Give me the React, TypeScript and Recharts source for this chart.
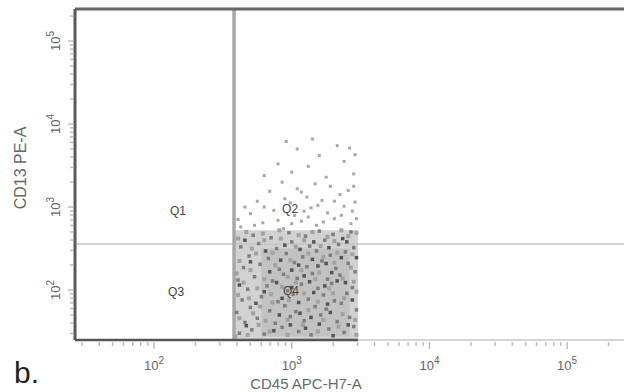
import {
  ReferenceArea,
  ReferenceDot,
  ReferenceLine,
  Scatter,
  ScatterChart,
  XAxis,
  YAxis,
} from "recharts";

// axis values are log10 of the channel intensity
const X_MIN = 1.426;
const X_MAX = 5.413;
const Y_MIN = 1.398;
const Y_MAX = 5.386;

const majorDecades = [1, 2, 3, 4, 5];
const minorSteps = [1, 2, 3, 4, 5, 6, 7, 8, 9];

// quadrant gate
const GATE_X = 2.581;
const GATE_Y = 2.555;
const CLOUD_RIGHT = 3.481;

const quadrantLabels: [string, number, number][] = [
  ["Q1", 2.174, 2.952],
  ["Q2", 2.988, 2.976],
  ["Q3", 2.16, 1.976],
  ["Q4", 2.995, 1.988],
];

// density shading of the packed region (CD13 low / mid)
const denseBand = { x1: GATE_X, x2: CLOUD_RIGHT, y1: Y_MIN, y2: 2.72 };
const coreBand = { x1: 2.78, x2: 3.42, y1: 1.44, y2: 2.5 };

// events: [CD45, CD13]
const coreEvents: [number, number][] = [
  [2.62, 1.48], [2.71, 1.52], [2.8, 1.47], [2.93, 1.55], [3.05, 1.5], [3.14, 1.46], [3.27, 1.53], [3.38, 1.49],
  [3.45, 1.56], [2.66, 1.61], [2.75, 1.66], [2.88, 1.6], [2.99, 1.68], [3.09, 1.63], [3.21, 1.7], [3.33, 1.62],
  [3.42, 1.67], [2.6, 1.73], [2.7, 1.79], [2.84, 1.75], [2.95, 1.81], [3.03, 1.74], [3.17, 1.8], [3.25, 1.77],
  [3.36, 1.84], [3.47, 1.76], [2.64, 1.88], [2.78, 1.92], [2.9, 1.86], [3.01, 1.95], [3.12, 1.89], [3.23, 1.94],
  [3.31, 1.87], [3.4, 1.96], [2.68, 2.01], [2.82, 2.05], [2.97, 1.99], [3.07, 2.07], [3.19, 2.02], [3.29, 2.08],
  [3.44, 2.03], [2.61, 2.12], [2.73, 2.16], [2.86, 2.11], [2.94, 2.19], [3.04, 2.14], [3.15, 2.2], [3.26, 2.13],
  [3.35, 2.18], [3.46, 2.22], [2.65, 2.27], [2.77, 2.31], [2.91, 2.25], [3.02, 2.33], [3.11, 2.28], [3.22, 2.35],
  [3.32, 2.26], [3.41, 2.32], [2.69, 2.41], [2.83, 2.38], [2.96, 2.44], [3.08, 2.4], [3.18, 2.47], [3.28, 2.42],
  [3.39, 2.46], [2.63, 2.52], [2.76, 2.56], [2.89, 2.5], [3.0, 2.58], [3.13, 2.53], [3.24, 2.6], [3.34, 2.55],
  [3.45, 2.51], [2.72, 2.66], [2.85, 2.63], [2.98, 2.69], [3.1, 2.65], [3.2, 2.71], [3.3, 2.67], [3.43, 2.7],
];

const coreEventsDark: [number, number][] = [
  [2.87, 1.51], [2.99, 1.58], [3.1, 1.54], [3.2, 1.59], [3.3, 1.45], [2.91, 1.7], [3.06, 1.72], [3.14, 1.67],
  [3.28, 1.73], [2.93, 1.9], [3.05, 1.85], [3.16, 1.97], [3.26, 1.83], [2.8, 1.98], [2.89, 2.09], [3.0, 2.03],
  [3.13, 2.1], [3.24, 2.05], [3.33, 2.11], [2.84, 2.22], [3.0, 2.24], [3.09, 2.17], [3.19, 2.29], [3.29, 2.21],
  [2.92, 2.36], [3.05, 2.3], [3.15, 2.37], [3.25, 2.32], [3.36, 2.39], [2.81, 2.47], [2.95, 2.54], [3.06, 2.49],
  [3.16, 2.58], [3.27, 2.51], [3.37, 2.62], [2.67, 1.57], [2.74, 1.84], [2.62, 2.06], [2.7, 2.34], [2.66, 2.6],
  [3.41, 1.58], [3.44, 1.88], [3.39, 2.09], [3.47, 2.39], [3.4, 2.58],
];

const coreEventsLight: [number, number][] = [
  [2.59, 1.44], [2.68, 1.46], [2.76, 1.58], [2.84, 1.5], [2.97, 1.46], [3.08, 1.58], [3.19, 1.5], [3.34, 1.56],
  [3.47, 1.46], [2.62, 1.66], [2.72, 1.72], [2.81, 1.63], [2.86, 1.85], [2.97, 1.64], [3.12, 1.76], [3.23, 1.64],
  [3.37, 1.71], [3.46, 1.64], [2.61, 1.94], [2.69, 1.9], [2.77, 1.8], [2.98, 1.88], [3.09, 1.96], [3.19, 1.86],
  [3.3, 1.96], [3.38, 1.9], [3.47, 1.98], [2.65, 2.09], [2.75, 2.02], [2.85, 1.95], [2.93, 2.04], [3.03, 2.09],
  [3.17, 2.13], [3.27, 2.02], [3.37, 2.14], [3.45, 2.1], [2.6, 2.2], [2.7, 2.24], [2.8, 2.13], [2.88, 2.3],
  [2.97, 2.16], [3.07, 2.24], [3.2, 2.21], [3.31, 2.33], [3.43, 2.27], [2.62, 2.35], [2.74, 2.44], [2.86, 2.45],
  [2.99, 2.36], [3.12, 2.44], [3.23, 2.4], [3.33, 2.45], [3.44, 2.43], [2.61, 2.62], [2.71, 2.5], [2.8, 2.6],
  [2.92, 2.62], [3.03, 2.52], [3.09, 2.6], [3.21, 2.53], [3.31, 2.59], [3.41, 2.65], [2.67, 2.7], [2.79, 2.68],
  [2.91, 2.72], [3.05, 2.66], [3.15, 2.7], [3.26, 2.64], [3.36, 2.72], [3.47, 2.69],
];

const upperEvents: [number, number][] = [
  [2.63, 2.76], [2.79, 2.81], [2.94, 2.74], [3.07, 2.83], [3.18, 2.78], [3.31, 2.86], [3.43, 2.8], [2.7, 2.92],
  [2.87, 2.96], [3.02, 2.9], [3.14, 2.99], [3.26, 2.93], [3.38, 3.01], [2.75, 3.07], [2.99, 3.05], [3.11, 3.12],
  [3.22, 3.08], [3.35, 3.15], [3.46, 3.06], [2.84, 3.19], [3.04, 3.22], [3.28, 3.25], [3.41, 3.2], [2.93, 3.3],
  [3.17, 3.28], [3.44, 2.95], [2.66, 3.0], [3.09, 2.95], [2.61, 2.85], [2.73, 2.78], [2.9, 2.84], [3.0, 2.8],
  [3.12, 2.88], [3.23, 2.82], [3.36, 2.9], [3.47, 2.86], [2.8, 3.0], [2.95, 3.1], [3.19, 3.02], [3.31, 3.07],
  [3.07, 3.18], [3.45, 3.25],
  [2.8, 3.38], [3.0, 3.42], [3.25, 3.36], [3.45, 3.4], [2.9, 3.52], [3.12, 3.49], [3.38, 3.55], [3.2, 3.62],
  [3.46, 3.63], [3.04, 3.7], [3.33, 3.74], [2.96, 3.79], [3.15, 3.82], [3.42, 3.71],
];

const toPoints = (rows: [number, number][]) => rows.map(([x, y]) => ({ x, y }));

const axisTicks = (lo: number, hi: number) =>
  majorDecades
    .flatMap((d) => minorSteps.map((m) => d + Math.log10(m)))
    .filter((v) => v >= lo && v <= hi);

const isMajor = (v: number) => Math.abs(v - Math.round(v)) < 1e-6;

const FONT = "'Liberation Sans', Arial, sans-serif";

function XTick({ x, y, payload }: any) {
  const v = payload.value;
  const major = isMajor(v);
  return (
    <g>
      <line x1={x} x2={x} y1={y + 2} y2={y + (major ? 9 : 6)} stroke="#bdbdbd" strokeWidth={1.5} />
      {major && (
        <text x={x} y={y + 30} textAnchor="middle" fontSize={13} fill="#666" fontFamily={FONT}>
          10
          <tspan dy={-6} fontSize={10}>
            {Math.round(v)}
          </tspan>
        </text>
      )}
    </g>
  );
}

function YTick({ x, y, payload }: any) {
  const v = payload.value;
  const major = isMajor(v);
  const lx = x - 19;
  return (
    <g>
      <line x1={x - (major ? 7 : 5)} x2={x - 2} y1={y} y2={y} stroke="#bdbdbd" strokeWidth={1.5} />
      {major && (
        <text
          x={lx}
          y={y}
          transform={`rotate(-90 ${lx} ${y})`}
          textAnchor="middle"
          dominantBaseline="central"
          fontSize={13}
          fill="#666"
          fontFamily={FONT}
        >
          10
          <tspan dy={-6} fontSize={10}>
            {Math.round(v)}
          </tspan>
        </text>
      )}
    </g>
  );
}

const square = (size: number) => (props: any) =>
  <rect x={props.cx - size / 2} y={props.cy - size / 2} width={size} height={size} fill={props.fill} />;

export default function App() {
  return (
    <div style={{ position: "absolute", left: 0, top: 0, width: 624, height: 392, background: "#fff" }}>
      <ScatterChart width={624} height={392} margin={{ top: 9, right: 0, left: 0, bottom: 0 }}>
        <XAxis
          type="number"
          dataKey="x"
          domain={[X_MIN, X_MAX]}
          ticks={axisTicks(X_MIN, X_MAX)}
          interval={0}
          tick={<XTick />}
          tickLine={false}
          axisLine={false}
          tickSize={0}
          tickMargin={0}
          height={52}
          allowDataOverflow
        />
        <YAxis
          type="number"
          dataKey="y"
          domain={[Y_MIN, Y_MAX]}
          ticks={axisTicks(Y_MIN, Y_MAX)}
          interval={0}
          tick={<YTick />}
          tickLine={false}
          axisLine={false}
          tickSize={0}
          tickMargin={0}
          width={75}
          allowDataOverflow
        />
        <ReferenceArea {...denseBand} fill="#d2d2d2" fillOpacity={1} stroke="none" />
        <ReferenceArea {...coreBand} fill="#c2c2c2" fillOpacity={1} stroke="none" />
        <Scatter data={toPoints(upperEvents)} fill="#a8a8a8" shape={square(3)} isAnimationActive={false} />
        <Scatter data={toPoints(coreEventsLight)} fill="#a2a2a2" shape={square(4)} isAnimationActive={false} />
        <Scatter data={toPoints(coreEvents)} fill="#7e7e7e" shape={square(3.5)} isAnimationActive={false} />
        <Scatter data={toPoints(coreEventsDark)} fill="#555" shape={square(3.5)} isAnimationActive={false} />
        <ReferenceLine y={GATE_Y} stroke="#c4c4c4" strokeWidth={1.5} />
        <ReferenceLine x={GATE_X} stroke="#a8a8a8" strokeWidth={3.5} />
        <ReferenceLine y={Y_MAX} stroke="#666" strokeWidth={3} />
        <ReferenceLine x={X_MIN} stroke="#5a5a5a" strokeWidth={3} />
        <ReferenceLine y={Y_MIN} stroke="#c8c8c8" strokeWidth={1.5} />
        <ReferenceLine
          segment={[
            { x: X_MIN, y: Y_MIN },
            { x: CLOUD_RIGHT, y: Y_MIN },
          ]}
          stroke="#555"
          strokeWidth={2.5}
        />
        {quadrantLabels.map(([name, x, y]) => (
          <ReferenceDot
            key={name}
            x={x}
            y={y}
            r={0}
            fill="none"
            stroke="none"
            label={{ value: name, position: "center", fontSize: 12, fill: "#444", fontFamily: FONT }}
          />
        ))}
      </ScatterChart>
      <svg width={624} height={392} style={{ position: "absolute", left: 0, top: 0, pointerEvents: "none" }}>
        <text
          x={20}
          y={168}
          transform="rotate(-90 20 168)"
          textAnchor="middle"
          dominantBaseline="central"
          fontSize={16}
          fill="#666"
          fontFamily={FONT}
        >
          CD13 PE-A
        </text>
        <text x={306} y={389} textAnchor="middle" fontSize={15} fill="#6a6a6a" fontFamily={FONT}>
          CD45 APC-H7-A
        </text>
        <text x={14} y={383} fontSize={30} fill="#222" fontFamily={FONT}>
          b.
        </text>
      </svg>
    </div>
  );
}
